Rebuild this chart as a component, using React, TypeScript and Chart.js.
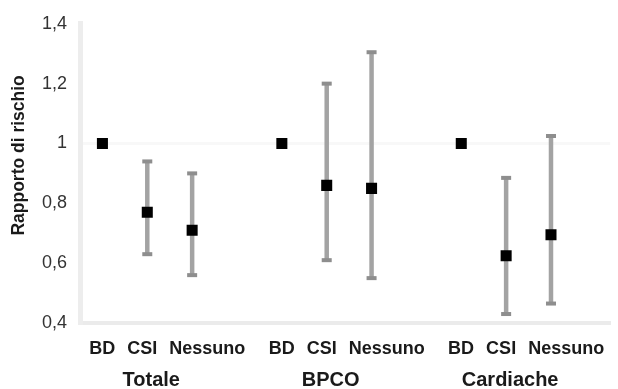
import React, { useEffect, useRef } from "react";
import { Chart, registerables } from "chart.js";

Chart.register(...registerables);

const groups = ["Totale", "BPCO", "Cardiache"];
const treatments = ["BD", "CSI", "Nessuno"];
const estimates = [
  [1.0, 0.77, 0.71],
  [1.0, 0.86, 0.85],
  [1.0, 0.625, 0.695],
];
const lowerCI = [
  [1.0, 0.63, 0.56],
  [1.0, 0.61, 0.55],
  [1.0, 0.43, 0.465],
];
const upperCI = [
  [1.0, 0.94, 0.9],
  [1.0, 1.2, 1.305],
  [1.0, 0.885, 1.025],
];
const yTickValues = [0.4, 0.6, 0.8, 1.0, 1.2, 1.4];
const yTickLabels = ["0,4", "0,6", "0,8", "1", "1,2", "1,4"];
const yTitle = "Rapporto di rischio";

const SLOTS_PER_GROUP = treatments.length + 1;

type Pt = { x: number; y: number; lo: number; hi: number };

const points: Pt[] = [];
groups.forEach((_, g) => {
  treatments.forEach((_, t) => {
    points.push({
      x: g * SLOTS_PER_GROUP + t,
      y: estimates[g][t],
      lo: lowerCI[g][t],
      hi: upperCI[g][t],
    });
  });
});

const FONT = "'Liberation Sans', Arial, Helvetica, sans-serif";

const errorBarPlugin = {
  id: "errorBars",
  beforeDatasetsDraw(chart: any) {
    const { ctx, scales } = chart;
    const xs = scales.x;
    const ys = scales.y;
    ctx.save();
    points.forEach((p) => {
      if (p.hi - p.lo < 1e-6) return;
      const px = xs.getPixelForValue(p.x);
      const yTop = ys.getPixelForValue(p.hi);
      const yBot = ys.getPixelForValue(p.lo);
      ctx.strokeStyle = "#a3a3a3";
      ctx.lineWidth = 4.5;
      ctx.beginPath();
      ctx.moveTo(px, yTop);
      ctx.lineTo(px, yBot);
      ctx.stroke();
      ctx.fillStyle = "#8e8e8e";
      ctx.fillRect(px - 5, yTop - 2, 10, 4);
      ctx.fillRect(px - 5, yBot - 2, 10, 4);
    });
    ctx.restore();
  },
};

const labelsPlugin = {
  id: "groupLabels",
  afterDraw(chart: any) {
    const { ctx, scales } = chart;
    const xs = scales.x;
    ctx.save();
    ctx.fillStyle = "#1a1a1a";
    ctx.textBaseline = "middle";
    groups.forEach((gName, g) => {
      const midX = xs.getPixelForValue(g * SLOTS_PER_GROUP + 1);
      ctx.font = `bold 18px ${FONT}`;
      const gap = 12;
      const widths = treatments.map((t) => ctx.measureText(t).width);
      const total = widths.reduce((a, b) => a + b, 0) + gap * (treatments.length - 1);
      let x = midX + 20 - total / 2;
      ctx.textAlign = "left";
      treatments.forEach((t, i) => {
        ctx.fillText(t, x, 349);
        x += widths[i] + gap;
      });
      ctx.font = `bold 20px ${FONT}`;
      ctx.textAlign = "center";
      ctx.fillText(gName, midX + 4, 380);
    });
    ctx.font = `bold 17.5px ${FONT}`;
    ctx.translate(19, (chart.chartArea.top + chart.chartArea.bottom) / 2 - 18);
    ctx.rotate(-Math.PI / 2);
    ctx.textAlign = "center";
    ctx.fillText(yTitle, 0, 0);
    ctx.restore();
  },
};

export default function App() {
  const canvasRef = useRef<HTMLCanvasElement | null>(null);

  useEffect(() => {
    document.body.style.margin = "0";
    if (!canvasRef.current) return;
    const chart = new Chart(canvasRef.current, {
      type: "scatter",
      data: {
        datasets: [
          {
            data: points.map((p) => ({ x: p.x, y: p.y })),
            pointStyle: "rect",
            radius: 7.8,
            hoverRadius: 7.8,
            backgroundColor: "#000000",
            borderColor: "#000000",
            borderWidth: 0,
          },
        ],
      },
      options: {
        animation: false,
        responsive: true,
        maintainAspectRatio: false,
        layout: { padding: { top: 17, bottom: 66, right: 2, left: 0 } },
        plugins: {
          legend: { display: false },
          tooltip: { enabled: false },
        },
        scales: {
          x: {
            type: "linear",
            min: -0.5,
            max: 11.32,
            ticks: { display: false },
            grid: { display: false },
            border: { display: true, color: "#ebebeb", width: 4 },
            afterFit: (s: any) => {
              s.height = 0;
            },
          },
          y: {
            min: 0.4,
            max: 1.4,
            afterBuildTicks: (s: any) => {
              s.ticks = yTickValues.map((v) => ({ value: v }));
            },
            ticks: {
              padding: 13,
              color: "#333333",
              font: { family: FONT, size: 18 },
              callback: (_v: any, i: number) => yTickLabels[i],
            },
            grid: {
              drawTicks: false,
              lineWidth: 3,
              color: (c: any) =>
                c.tick && Math.abs(c.tick.value - 1) < 1e-6 ? "#f8f8f8" : "rgba(0,0,0,0)",
            },
            border: { display: true, color: "#ededed", width: 5 },
            afterFit: (s: any) => {
              s.width = 80;
            },
          },
        },
      },
      plugins: [errorBarPlugin, labelsPlugin],
    });
    return () => chart.destroy();
  }, []);

  return (
    <div style={{ width: 618, height: 389, position: "relative" }}>
      <canvas ref={canvasRef} />
    </div>
  );
}
